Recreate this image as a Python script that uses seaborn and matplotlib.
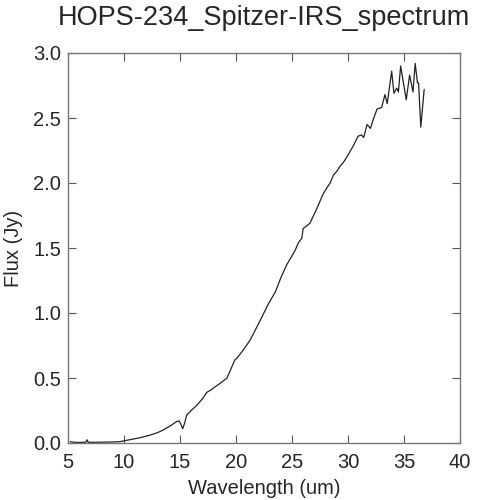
import matplotlib
matplotlib.use("Agg")
import matplotlib.pyplot as plt
import seaborn as sns
import pandas as pd

title = "HOPS-234_Spitzer-IRS_spectrum"
x_label = "Wavelength (um)"
y_label = "Flux (Jy)"
x_ticks = [5, 10, 15, 20, 25, 30, 35, 40]
y_ticks = [0.0, 0.5, 1.0, 1.5, 2.0, 2.5, 3.0]

wavelength = [5.2, 5.6, 6.0, 6.4, 6.6, 6.7, 6.8, 7.2, 7.8, 8.4, 9.0, 9.6, 10.2,
              10.8, 11.5, 12.3, 13.0, 13.5, 14.1, 14.7, 14.9, 15.05, 15.24, 15.4,
              15.6, 16.0, 16.5, 17.0, 17.4, 17.8, 18.1, 18.6, 19.2, 19.5, 19.9,
              20.06, 20.6, 21.25, 21.55, 22.2, 22.89, 23.5, 24.0, 24.52, 25.0,
              25.27, 25.57, 25.87, 26.0, 26.3, 26.6, 27.2, 27.8, 28.1, 28.4,
              28.7, 29.0, 29.3, 29.6, 29.9, 30.5, 30.9, 31.2, 31.4, 31.7, 32.0,
              32.3, 32.6, 33.0, 33.3, 33.5, 33.9, 34.1, 34.35, 34.5, 34.7, 35.2,
              35.5, 35.8, 36.0, 36.2, 36.3, 36.5, 36.8]
flux = [0.01, 0.005, 0.004, 0.006, 0.006, 0.025, 0.006, 0.005, 0.006, 0.007, 0.008, 0.01, 0.02,
        0.03, 0.042, 0.06, 0.08, 0.10, 0.13, 0.165, 0.17, 0.15, 0.11, 0.15,
        0.215, 0.25, 0.29, 0.34, 0.39, 0.41, 0.43, 0.46, 0.50, 0.56, 0.64,
        0.65, 0.71, 0.79, 0.84, 0.95, 1.07, 1.16, 1.27, 1.37, 1.44,
        1.48, 1.54, 1.575, 1.65, 1.67, 1.69, 1.80, 1.92, 1.96, 2.0,
        2.06, 2.09, 2.13, 2.16, 2.20, 2.29, 2.36, 2.37, 2.35, 2.45, 2.42,
        2.50, 2.57, 2.58, 2.68, 2.61, 2.86, 2.69, 2.73, 2.70, 2.90, 2.64,
        2.83, 2.70, 2.92, 2.77, 2.77, 2.43, 2.72]

df = pd.DataFrame({"wavelength": wavelength, "flux": flux})

sns.set_style("white")
plt.rcParams["font.family"] = ["Liberation Sans", "DejaVu Sans"]

fig = plt.figure(figsize=(4.79, 5.00), dpi=100)
ax = fig.add_axes([68 / 479, 57 / 500, 392 / 479, 390 / 500])

sns.lineplot(data=df, x="wavelength", y="flux", ax=ax, sort=False,
             estimator=None, color="#222222", linewidth=0.9)

ax.set_xlim(5, 40)
ax.set_ylim(0, 3.0)
ax.set_xticks(x_ticks)
ax.set_yticks(y_ticks)
ax.set_xticklabels([str(t) for t in x_ticks], fontsize=14.5)
ax.set_yticklabels([f"{t:.1f}" for t in y_ticks], fontsize=14.5)
ax.tick_params(axis="x", pad=7)
ax.tick_params(axis="y", pad=5)
ax.tick_params(direction="in", length=6, width=0.8, color="#555555",
               top=True, right=True, bottom=True, left=True)
for s in ax.spines.values():
    s.set_color("#777777")
    s.set_linewidth(1.0)

ax.set_xlabel(x_label, fontsize=14.5, labelpad=5)
ax.set_ylabel(y_label, fontsize=14.5, labelpad=7)
ax.set_title(title, fontsize=19.5, pad=20)

fig.savefig("out.png", dpi=100)
